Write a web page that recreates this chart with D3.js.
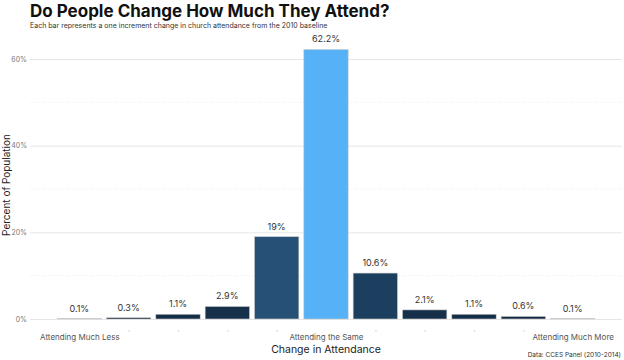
<!DOCTYPE html>
<html>
<head>
<meta charset="utf-8">
<script src="https://cdn.jsdelivr.net/npm/d3@7"></script>
<style>
  body { margin: 0; background: #fff; }
  text { font-family: "Inter", "Noto Sans", sans-serif; }
</style>
</head>
<body>
<div id="chart"></div>
<script>
// donnees
const steps = [1, 2, 3, 4, 5, 6, 7, 8, 9, 10, 11];
const percents = [0.1, 0.3, 1.1, 2.9, 19, 62.2, 10.6, 2.1, 1.1, 0.6, 0.1];
const barLabels = ["0.1%", "0.3%", "1.1%", "2.9%", "19%", "62.2%", "10.6%", "2.1%", "1.1%", "0.6%", "0.1%"];
const xTickLabels = ["Attending Much Less", "'", "'", "'", "'", "Attending the Same", "'", "'", "'", "'", "Attending Much More"];
const yTicks = [0, 20, 40, 60];
const yMinor = [10, 30, 50];

const W = 624, H = 360;
const panel = {left: 30, right: 622, top: 30, bottom: 319};

const svg = d3.select("#chart")
    .append("svg")
    .attr("width", W)
    .attr("height", H);

const x = d3.scaleLinear()
    .domain([0, 12])
    .range([panel.left, panel.right]);
const y = d3.scaleLinear()
    .domain([0, 60])
    .range([panel.bottom, 59]);
const bw = (x(1) - x(0)) * 0.9;

const fill = d3.scaleLinear()
    .domain([0, d3.max(percents)])
    .range(["#132B43", "#56B1F7"])
    .interpolate(d3.interpolateLab);

// grille
svg.append("g")
    .selectAll("line")
    .data(yMinor)
    .join("line")
    .attr("x1", panel.left).attr("x2", panel.right)
    .attr("y1", d => y(d)).attr("y2", d => y(d))
    .attr("stroke", "#e6e6e6")
    .attr("stroke-width", 0.8)
    .attr("stroke-dasharray", "1,2");

const yAxis = svg.append("g")
    .attr("transform", `translate(${panel.left},0)`)
    .call(d3.axisLeft(y).tickValues(yTicks).tickFormat(d => d + "%")
        .tickSize(-(panel.right - panel.left)).tickPadding(3));
yAxis.select(".domain").remove();
yAxis.selectAll(".tick line").attr("stroke", "#e6e6e6").attr("stroke-width", 1);
yAxis.selectAll(".tick text")
    .attr("fill", "#777")
    .style("font-size", "7px")
    .style("font-family", "Inter, sans-serif");

// barres
svg.append("g")
    .selectAll("rect")
    .data(steps)
    .join("rect")
    .attr("x", (d, i) => x(d) - bw / 2)
    .attr("y", (d, i) => y(percents[i]))
    .attr("width", bw)
    .attr("height", (d, i) => y(0) - y(percents[i]))
    .attr("fill", (d, i) => fill(percents[i]))
    .attr("stroke", "#d0d0d0")
    .attr("stroke-width", 0.6);

svg.append("g")
    .selectAll("text")
    .data(steps)
    .join("text")
    .attr("x", d => x(d))
    .attr("y", (d, i) => y(percents[i]) - 7)
    .attr("text-anchor", "middle")
    .attr("fill", "#333")
    .style("font-size", "9px")
    .text((d, i) => barLabels[i]);

// axe X
const xAxis = svg.append("g")
    .attr("transform", `translate(0,${panel.bottom})`)
    .call(d3.axisBottom(x).tickValues(steps).tickSize(0).tickPadding(15)
        .tickFormat((d, i) => xTickLabels[i]));
xAxis.select(".domain").remove();
xAxis.selectAll(".tick text")
    .attr("fill", "#555")
    .style("font-size", "8px")
    .style("font-family", "Inter, sans-serif");
xAxis.selectAll(".tick text")
    .filter((d, i) => xTickLabels[i] === "'")
    .attr("fill", "#aaa")
    .attr("y", 12)
    .style("font-size", "6px");

// titres
svg.append("text")
    .attr("x", 30).attr("y", 17)
    .attr("fill", "#111")
    .style("font-size", "17px")
    .style("font-weight", "700")
    .text("Do People Change How Much They Attend?");

svg.append("text")
    .attr("x", 30).attr("y", 28)
    .attr("fill", "#333")
    .style("font-size", "7px")
    .text("Each bar represents a one increment change in church attendance from the 2010 baseline");

svg.append("text")
    .attr("transform", `translate(10,${(panel.bottom + 59) / 2 - 4}) rotate(-90)`)
    .attr("text-anchor", "middle")
    .attr("fill", "#222")
    .style("font-size", "10px")
    .text("Percent of Population");

svg.append("text")
    .attr("x", x(6)).attr("y", 352.5)
    .attr("text-anchor", "middle")
    .attr("fill", "#222")
    .style("font-size", "10.5px")
    .text("Change in Attendance");

svg.append("text")
    .attr("x", 621).attr("y", 357)
    .attr("text-anchor", "end")
    .attr("fill", "#333")
    .style("font-size", "6.5px")
    .text("Data: CCES Panel (2010-2014)");
</script>
</body>
</html>
